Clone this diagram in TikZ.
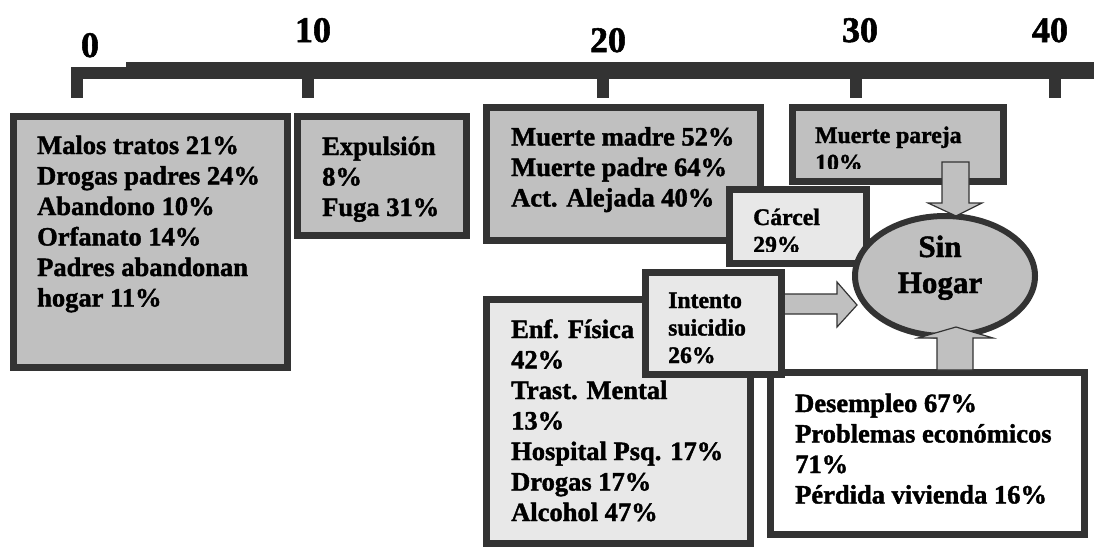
\documentclass[tikz,border=0pt]{standalone}
\usepackage{fontspec}
\setmainfont{Liberation Serif}[BoldFeatures={FakeBold=1.5}]
\usetikzlibrary{shapes,positioning}

\definecolor{linegray}{HTML}{333333}
\definecolor{boxgray}{HTML}{C0C0C0}
\definecolor{lightfill}{HTML}{E8E8E8}

\begin{document}
\begin{tikzpicture}
  [
    x=1pt, y=-1pt,
    boxdark/.style={rectangle, draw=linegray, fill=boxgray, line width=7pt, inner sep=0pt, outer sep=0pt},
    boxlight/.style={boxdark, fill=lightfill},
    boxwhite/.style={boxdark, fill=white},
    bigtext/.style={font=\fontsize{26.5}{30.5}\selectfont\bfseries, align=left, inner sep=0pt, anchor=base west},
    smalltext/.style={bigtext, font=\fontsize{23.7}{27.5}\selectfont\bfseries},
    yearlabel/.style={font=\fontsize{36}{40}\selectfont\bfseries, inner sep=0pt, anchor=base},
    blockarrow/.style={draw=linegray, fill=boxgray, line width=1.2pt},
  ]

  \useasboundingbox (0,0) rectangle (1094,549);

  % time line
  \fill[linegray] (71,67) rectangle (126,79);
  \fill[linegray] (126,62) rectangle (1094,79);
  \foreach \t in {77,308,603,856,1055}
    \fill[linegray] (\t-6,79) rectangle (\t+6,98);

  \node[yearlabel] (y0) at (90,57) {0};
  \node[yearlabel] (y10) at (313,42) {10};
  \node[yearlabel] (y20) at (608,52) {20};
  \node[yearlabel] (y30) at (860,42) {30};
  \node[yearlabel] (y40) at (1050,42) {40};

  % childhood (text nodes sit on their last line)
  \node[boxdark, minimum width=274pt, minimum height=251pt] (malos) at (150.5,242) {};
  \node[bigtext] (malostxt) at (37,306.5) {Malos tratos 21\%\\Drogas padres 24\%\\Abandono 10\%\\Orfanato 14\%\\Padres abandonan\\hogar 11\%};

  \node[boxdark, minimum width=169pt, minimum height=119pt] (expulsion) at (382,176) {};
  \node[bigtext] (expulsiontxt) at (322,216) {Expulsión\\8\%\\Fuga 31\%};

  % adult life
  \node[boxdark, minimum width=274pt, minimum height=133pt] (madre) at (623.5,174) {};
  \node[bigtext] (madretxt) at (511,206.5) {Muerte madre 52\%\\Muerte padre 64\%\\Act. Alejada 40\%};

  \node[boxdark, minimum width=211pt, minimum height=74pt] (pareja) at (898,144.5) {};
  \begin{scope}
    \clip (789,104) rectangle (1007,168);
    \node[smalltext] (parejatxt) at (815,170.5) {Muerte pareja\\10\%};
  \end{scope}

  \node[boxlight, minimum width=137pt, minimum height=74pt] (carcel) at (798,226.5) {};
  \begin{scope}
    \clip (726,186) rectangle (870,251);
    \node[smalltext] (carceltxt) at (753,252.5) {Cárcel\\29\%};
  \end{scope}

  \node[boxlight, minimum width=264pt, minimum height=244pt] (enf) at (618.5,421.5) {};
  \node[bigtext] (enftxt) at (511,521) {Enf. Física\\42\%\\Trast. Mental\\13\%\\Hospital Psq. 17\%\\Drogas 17\%\\Alcohol 47\%};

  \node[boxwhite, minimum width=314pt, minimum height=162pt] (desempleo) at (927.5,453.5) {};
  \node[bigtext] (desempleotxt) at (795,503.5) {Desempleo 67\%\\Problemas económicos\\71\%\\Pérdida vivienda 16\%};

  \draw[blockarrow] (783,294) -- (837,294) -- (837,282) -- (857,305) -- (837,327) -- (837,314) -- (783,314) -- cycle;

  \node[boxlight, minimum width=136pt, minimum height=102pt] (intento) at (713.5,323.5) {};
  \node[smalltext] (intentotxt) at (668,363) {Intento\\suicidio\\26\%};

  % homeless
  \node[ellipse, draw=linegray, fill=boxgray, line width=6pt, minimum width=180pt, minimum height=120pt, inner sep=0pt, outer sep=0pt] (sinhogar) at (945,276) {};
  \node[font=\fontsize{31}{36}\selectfont\bfseries, align=center, inner sep=0pt, anchor=base] (sintxt) at (940,293) {Sin\\Hogar};

  \draw[blockarrow] (942,162) -- (969,162) -- (969,203) -- (982,203) -- (956,216) -- (928,203) -- (942,203) -- cycle;
  \draw[blockarrow] (937,370) -- (937,338) -- (918,338) -- (956,327) -- (993,338) -- (973,338) -- (973,370) -- cycle;

\end{tikzpicture}
\end{document}
